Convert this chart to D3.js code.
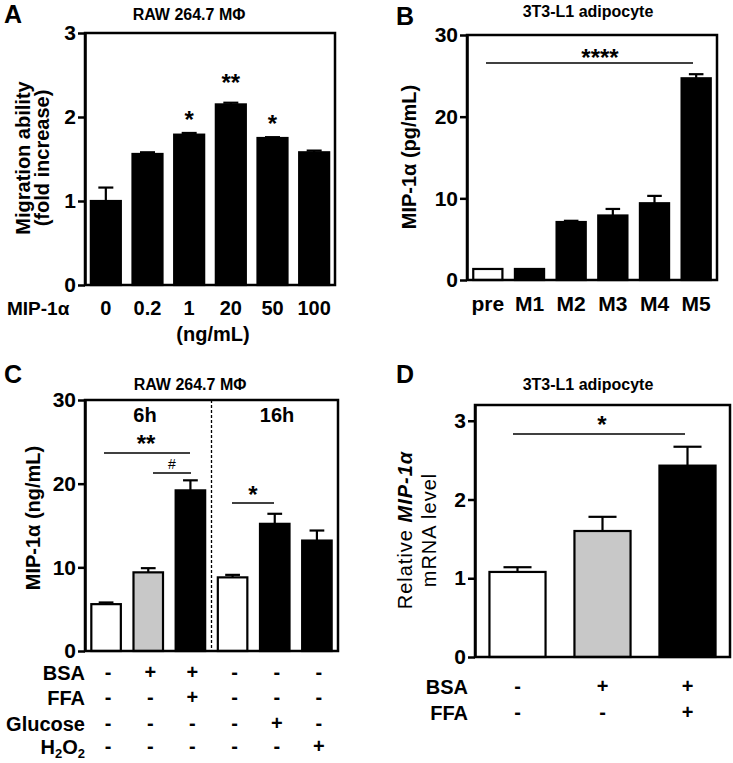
<!DOCTYPE html>
<html><head><meta charset="utf-8">
<script src="https://cdn.jsdelivr.net/npm/d3@7"></script>
<style>
body{margin:0;background:#fff;}
svg text{font-family:Arial,"Liberation Sans",sans-serif;}
</style></head>
<body><svg id="c" width="733" height="763"></svg>
<script>
// Panel A
const catsA = ["0","0.2","1","20","50","100"];
const valsA = [1.0, 1.56, 1.79, 2.15, 1.75, 1.58];
const errA  = [0.16, 0.02, 0.02, 0.02, 0.01, 0.02];
const ticksA = [0,1,2,3];
const sigA = ["", "", "*", "**", "*", ""];
// Panel B
const catsB = ["pre","M1","M2","M3","M4","M5"];
const valsB = [1.35, 1.35, 7.1, 7.9, 9.4, 24.7];
const errB  = [0, 0, 0.15, 0.8, 0.9, 0.5];
const ticksB = [0,10,20,30];
// Panel C
const catsC = ["c1","c2","c3","c4","c5","c6"];
const valsC = [5.6, 9.4, 19.2, 8.8, 15.2, 13.2];
const errC  = [0.2, 0.5, 1.2, 0.3, 1.2, 1.2];
const ticksC = [0,10,20,30];
const rowsC = [
  {name:"BSA",   signs:["-","+","+","-","-","-"]},
  {name:"FFA",   signs:["-","-","+","-","-","-"]},
  {name:"Glucose", signs:["-","-","-","-","+","-"]},
  {name:"H2O2",  signs:["-","-","-","-","-","+"]}
];
// Panel D
const catsD = ["d1","d2","d3"];
const valsD = [1.08, 1.6, 2.43];
const errD  = [0.06, 0.18, 0.24];
const ticksD = [0,1,2,3];
const rowsD = [
  {name:"BSA", signs:["-","+","+"]},
  {name:"FFA", signs:["-","-","+"]}
];

const svg = d3.select("#c");
const BOLD = "bold";
const FS = 20;

function txt(g, x, y, s, size, opts={}){
  return g.append("text").attr("x",x).attr("y",y)
    .attr("text-anchor",opts.anchor||"middle")
    .attr("font-size",size)
    .attr("font-weight",opts.weight||BOLD)
    .text(s);
}
function vtxt(g, x, y, s, size, weight){
  return g.append("text").attr("transform",`translate(${x},${y}) rotate(-90)`)
    .attr("text-anchor","middle").attr("font-size",size).attr("font-weight",weight||BOLD).text(s);
}

function panel(o){
  const g = svg.append("g");
  const x = d3.scaleBand().domain(o.cats).range([o.x0,o.x1]).paddingInner(o.pi).paddingOuter(o.po);
  const y = d3.scaleLinear().domain([0,o.ymax]).range([o.y0,o.y1]);
  g.selectAll("rect.bar").data(o.vals).enter().append("rect")
    .attr("x",(d,i)=>x(o.cats[i])).attr("width",x.bandwidth())
    .attr("y",d=>y(d)).attr("height",d=>y(0)-y(d))
    .attr("fill",(d,i)=>o.fills[i]).attr("stroke","#000").attr("stroke-width",2.2);
  o.vals.forEach((v,i)=>{
    if(!o.errs[i]) return;
    const cx = x(o.cats[i])+x.bandwidth()/2, cw = x.bandwidth()/4;
    g.append("line").attr("x1",cx).attr("x2",cx).attr("y1",y(v)).attr("y2",y(v+o.errs[i])).attr("stroke","#000").attr("stroke-width",2.2);
    g.append("line").attr("x1",cx-cw).attr("x2",cx+cw).attr("y1",y(v+o.errs[i])).attr("y2",y(v+o.errs[i])).attr("stroke","#000").attr("stroke-width",2.2);
  });
  g.append("rect").attr("x",o.x0).attr("y",y(o.ymax)).attr("width",o.x1-o.x0).attr("height",y(0)-y(o.ymax))
    .attr("fill","none").attr("stroke","#000").attr("stroke-width",2.5);
  const ax = g.append("g").attr("transform",`translate(${o.x0},0)`)
    .call(d3.axisLeft(y).tickValues(o.ticks).tickFormat(d3.format("d")).tickSize(7).tickSizeOuter(0).tickPadding(2));
  ax.select(".domain").attr("stroke-width",2.5);
  ax.selectAll(".tick line").attr("stroke-width",2.5);
  ax.selectAll(".tick text").attr("font-size",21).attr("font-weight",BOLD).attr("fill","#000")
    .attr("font-family",'Arial,"Liberation Sans",sans-serif');
  return {g,x,y};
}

// ---------- A ----------
{
  const {g,x,y} = panel({cats:catsA, vals:valsA, errs:errA, ticks:ticksA, ymax:3,
    x0:85, x1:335, y0:285, y1:33, pi:0.28, po:0.14, fills:catsA.map(()=>"#000")});
  catsA.forEach((c,i)=>{
    const cx = x(c)+x.bandwidth()/2;
    txt(g, cx, 315, c, FS);
    if(sigA[i]) txt(g, cx, y(valsA[i]+errA[i]) + 10 - (sigA[i].length>1?22:15), sigA[i], 24);
  });
  txt(g, 7, 315, "MIP-1α", 19, {anchor:"start"});
  txt(g, 213, 341, "(ng/mL)", FS);
  vtxt(g, 30, 158, "Migration ability", 20);
  vtxt(g, 49, 158, "(fold increase)", 20);
  txt(g, 189, 20, "RAW 264.7 MΦ", 16);
  txt(g, 4, 23, "A", 25, {anchor:"start"});
}

// ---------- B ----------
{
  const fills = catsB.map((c,i)=> i===0 ? "#fff" : "#000");
  const {g,x,y} = panel({cats:catsB, vals:valsB, errs:errB, ticks:ticksB, ymax:30,
    x0:467, x1:717, y0:280, y1:35, pi:0.3, po:0.15, fills});
  catsB.forEach((c)=> txt(g, x(c)+x.bandwidth()/2, 311, c, 21));
  g.append("line").attr("x1",486).attr("x2",693).attr("y1",63).attr("y2",63).attr("stroke","#000").attr("stroke-width",1.5);
  txt(g, 600, 66, "****", 24);
  vtxt(g, 416, 157, "MIP-1α (pg/mL)", 20);
  txt(g, 588, 17, "3T3-L1 adipocyte", 16);
  txt(g, 396, 25, "B", 25, {anchor:"start"});
}

// ---------- C ----------
{
  const fills = ["#fff","#c8c8c8","#000","#fff","#000","#000"];
  const {g,x,y} = panel({cats:catsC, vals:valsC, errs:errC, ticks:ticksC, ymax:30,
    x0:85, x1:338, y0:651, y1:400, pi:0.3, po:0.15, fills});
  const mid = (x(catsC[2])+x.bandwidth() + x(catsC[3]))/2;
  g.append("line").attr("x1",mid).attr("x2",mid).attr("y1",y(30)).attr("y2",y(0)).attr("stroke","#000").attr("stroke-width",1.3).attr("stroke-dasharray","3,2");
  txt(g, 145, 422, "6h", FS);
  txt(g, 277, 422, "16h", FS);
  g.append("line").attr("x1",104).attr("x2",190).attr("y1",453).attr("y2",453).attr("stroke","#000").attr("stroke-width",1.3);
  txt(g, 146, 452, "**", 24);
  g.append("line").attr("x1",153).attr("x2",191).attr("y1",473).attr("y2",473).attr("stroke","#000").attr("stroke-width",1.3);
  txt(g, 172, 469, "#", 14, {weight:"normal"});
  g.append("line").attr("x1",232).attr("x2",274).attr("y1",503).attr("y2",503).attr("stroke","#000").attr("stroke-width",1.3);
  txt(g, 253, 503, "*", 24);
  const rowY = [680, 705, 731, 754];
  rowsC.forEach((r,ri)=>{
    const t = g.append("text").attr("x",85).attr("y",rowY[ri]).attr("text-anchor","end").attr("font-size",FS).attr("font-weight",BOLD);
    if(r.name==="H2O2"){
      t.append("tspan").text("H");
      t.append("tspan").attr("font-size",13).attr("dy",4).text("2");
      t.append("tspan").attr("dy",-4).text("O");
      t.append("tspan").attr("font-size",13).attr("dy",4).text("2");
    } else t.text(r.name);
    r.signs.forEach((s,i)=> txt(g, x(catsC[i])+x.bandwidth()/2+2, rowY[ri]-1, s, FS));
  });
  vtxt(g, 40, 518, "MIP-1α (ng/mL)", 20);
  txt(g, 190, 390, "RAW 264.7 MΦ", 16);
  txt(g, 4, 383, "C", 25, {anchor:"start"});
}

// ---------- D ----------
{
  const fills = ["#fff","#c8c8c8","#000"];
  const {g,x,y} = panel({cats:catsD, vals:valsD, errs:errD, ticks:ticksD, ymax:3.2,
    x0:475, x1:730, y0:657, y1:405, pi:0.34, po:0.17, fills});
  g.append("line").attr("x1",513).attr("x2",685).attr("y1",434).attr("y2",434).attr("stroke","#000").attr("stroke-width",1.3);
  txt(g, 602, 433, "*", 24);
  const rowY = [694, 720];
  rowsD.forEach((r,ri)=>{
    txt(g, 468, rowY[ri], r.name, FS, {anchor:"end"});
    r.signs.forEach((s,i)=> txt(g, x(catsD[i])+x.bandwidth()/2, rowY[ri]-1, s, FS));
  });
  const t1 = g.append("text").attr("transform","translate(412,530) rotate(-90)").attr("text-anchor","middle").attr("font-size",20).attr("letter-spacing",1);
  t1.append("tspan").text("Relative ");
  t1.append("tspan").attr("font-weight",BOLD).attr("font-style","italic").text("MIP-1α");
  g.append("text").attr("transform","translate(436,530) rotate(-90)").attr("text-anchor","middle").attr("font-size",20).attr("letter-spacing",1).text("mRNA level");
  txt(g, 588, 390, "3T3-L1 adipocyte", 16);
  txt(g, 396, 383, "D", 25, {anchor:"start"});
}
</script></body></html>
